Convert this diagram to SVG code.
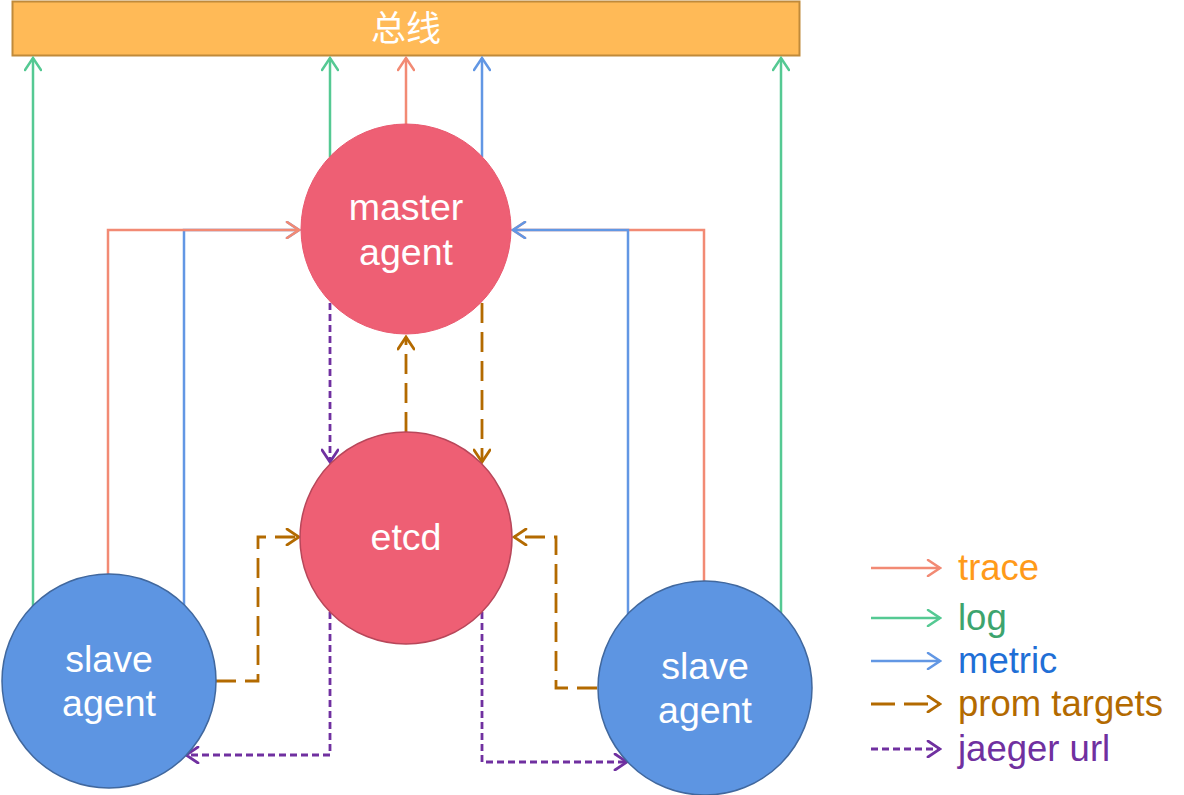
<svg xmlns="http://www.w3.org/2000/svg" width="1184" height="795" viewBox="0 0 1184 795">
<style>
.lbl{font-family:"Liberation Sans",Arial,sans-serif;font-size:37.5px;fill:#ffffff;text-anchor:middle}
.leg{font-family:"Liberation Sans",Arial,sans-serif;font-size:36.5px}
.c{fill:none;stroke-width:2.5;stroke-linejoin:miter}
.tr{stroke:#f28a74}
.lg{stroke:#55c993}
.mt{stroke:#6297e4}
.pr{stroke:#b36a00;stroke-width:2.8;stroke-dasharray:20 9}
.jg{stroke:#7030a0;stroke-width:2.8;stroke-dasharray:7 4}
</style>
<defs>
<marker id="aT" viewBox="0 0 16 18" refX="14" refY="9" markerWidth="16" markerHeight="18" markerUnits="userSpaceOnUse" orient="auto"><path d="M2,1 L14,9 L2,17" fill="none" stroke="#f28a74" stroke-width="2.5" stroke-linecap="round"/></marker>
<marker id="aL" viewBox="0 0 16 18" refX="14" refY="9" markerWidth="16" markerHeight="18" markerUnits="userSpaceOnUse" orient="auto"><path d="M2,1 L14,9 L2,17" fill="none" stroke="#55c993" stroke-width="2.5" stroke-linecap="round"/></marker>
<marker id="aM" viewBox="0 0 16 18" refX="14" refY="9" markerWidth="16" markerHeight="18" markerUnits="userSpaceOnUse" orient="auto"><path d="M2,1 L14,9 L2,17" fill="none" stroke="#6297e4" stroke-width="2.5" stroke-linecap="round"/></marker>
<marker id="aP" viewBox="0 0 16 18" refX="14" refY="9" markerWidth="16" markerHeight="18" markerUnits="userSpaceOnUse" orient="auto"><path d="M2,1 L14,9 L2,17" fill="none" stroke="#b36a00" stroke-width="2.8" stroke-linecap="round"/></marker>
<marker id="aJ" viewBox="0 0 16 18" refX="14" refY="9" markerWidth="16" markerHeight="18" markerUnits="userSpaceOnUse" orient="auto"><path d="M2,1 L14,9 L2,17" fill="none" stroke="#7030a0" stroke-width="2.8" stroke-linecap="round"/></marker>
</defs>
<rect width="1184" height="795" fill="#ffffff"/>

<g id="bus">
<rect x="12.5" y="1.5" width="787" height="54" fill="#ffba57" stroke="#c08a3a" stroke-width="2"/>
<text x="406" y="41" font-family="'Noto Sans CJK SC',sans-serif" font-size="35" fill="#ffffff" text-anchor="middle">总线</text>
</g>

<g id="connectors">
<path class="c lg" d="M33,606 V58" marker-end="url(#aL)"/>
<path class="c lg" d="M330,157 V58" marker-end="url(#aL)"/>
<path class="c tr" d="M406,125 V58" marker-end="url(#aT)"/>
<path class="c mt" d="M482,157 V58" marker-end="url(#aM)"/>
<path class="c lg" d="M781,613 V58" marker-end="url(#aL)"/>
<path class="c mt" d="M184,605 V230 H299" marker-end="url(#aM)"/>
<path class="c tr" d="M108,575 V230 H299" marker-end="url(#aT)"/>
<path class="c tr" d="M704,582 V230 H513" marker-end="url(#aT)"/>
<path class="c mt" d="M628,614 V230 H513" marker-end="url(#aM)"/>
<path class="c jg" d="M330,303 V462" marker-end="url(#aJ)"/>
<path class="c pr" d="M482,303 V462" marker-end="url(#aP)"/>
<path class="c pr" d="M406,432 V337" marker-end="url(#aP)"/>
<path class="c pr" d="M216,681 H258 V537 H299" marker-end="url(#aP)"/>
<path class="c pr" d="M597,688 H556 V537 H514" marker-end="url(#aP)"/>
<path class="c jg" d="M330,612 V755 H186" marker-end="url(#aJ)"/>
<path class="c jg" d="M482,612 V762 H627" marker-end="url(#aJ)"/>
</g>

<g id="master">
<circle cx="406" cy="229" r="105" fill="#ee5f74" stroke="#e9596f" stroke-width="1"/>
<text class="lbl" x="406" y="220">master</text>
<text class="lbl" x="406" y="265">agent</text>
</g>

<g id="etcd">
<circle cx="406" cy="538" r="106" fill="#ee5f74" stroke="#b8475a" stroke-width="1.5"/>
<text class="lbl" x="406" y="550">etcd</text>
</g>

<g id="slave-left">
<circle cx="109" cy="681" r="107" fill="#5d95e2" stroke="#41689e" stroke-width="1.5"/>
<text class="lbl" x="109" y="672">slave</text>
<text class="lbl" x="109" y="716">agent</text>
</g>

<g id="slave-right">
<circle cx="705" cy="688" r="107" fill="#5d95e2" stroke="#41689e" stroke-width="1.5"/>
<text class="lbl" x="705" y="679">slave</text>
<text class="lbl" x="705" y="723">agent</text>
</g>

<g id="legend">
<path class="c tr" d="M871,568 H940" marker-end="url(#aT)"/>
<text class="leg" x="958" y="580" fill="#ff9a1a">trace</text>
<path class="c lg" d="M871,618 H940" marker-end="url(#aL)"/>
<text class="leg" x="958" y="630" fill="#3da46e">log</text>
<path class="c mt" d="M871,661 H940" marker-end="url(#aM)"/>
<text class="leg" x="958" y="673" fill="#1f6fd6">metric</text>
<path class="c pr" d="M871,704 H940" style="stroke-dasharray:24 9" marker-end="url(#aP)"/>
<text class="leg" x="958" y="716" fill="#b36a00">prom targets</text>
<path class="c jg" d="M871,749 H940" marker-end="url(#aJ)"/>
<text class="leg" x="958" y="761" fill="#7030a0">jaeger url</text>
</g>
</svg>
